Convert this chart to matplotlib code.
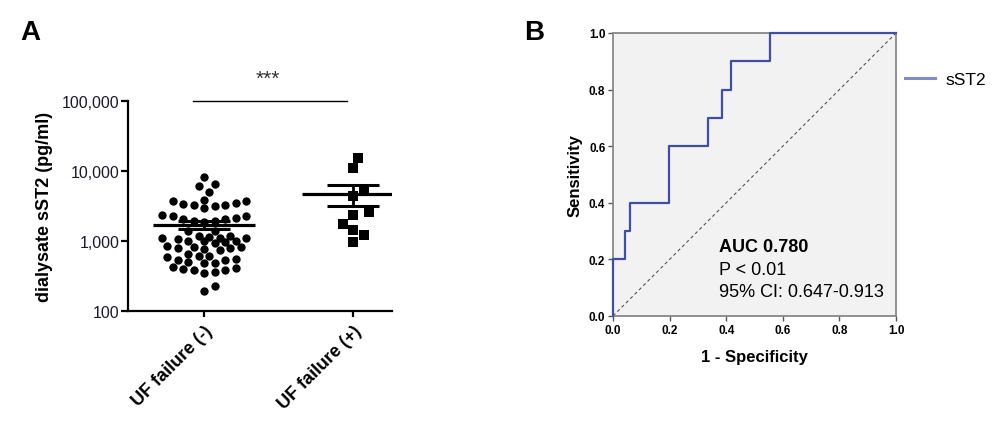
import numpy as np
import matplotlib
matplotlib.use("Agg")
import matplotlib.pyplot as plt
from matplotlib.lines import Line2D
from matplotlib.ticker import FixedLocator, FuncFormatter, NullLocator

plt.rcParams['font.family'] = ['Liberation Sans', 'DejaVu Sans']

# ---- data: panel A (dialysate sST2, pg/ml) ----
groups = ["UF failure (-)", "UF failure (+)"]
uf_neg = [8180, 6560, 6080, 5080,
          3910, 3280, 3710, 3200, 3500, 3780, 2940, 3280, 3390,
          2070, 1950, 1890, 2300, 2380, 2300, 1950, 2070, 2110,
          1405, 1167, 1104, 1010, 1104, 1010, 1068, 1010, 1104, 1130, 1167, 1377,
          927, 813, 768, 794, 743, 786, 813, 857, 958,
          615, 583, 615, 652, 535, 496, 535, 552,
          480, 410, 384, 363, 345, 384, 397, 428, 480,
          194, 229]
uf_pos = [15450, 11120, 5560, 4460, 2380, 2580, 1750, 1440, 1230, 958]
y_ticks = [100, 1000, 10000, 100000]

# ---- data: panel B (ROC) ----
fpr = [0, 0, 0.044, 0.059, 0.199, 0.337, 0.385, 0.417, 0.556, 1.0]
tpr = [0, 0.2, 0.3, 0.4, 0.6, 0.7, 0.8, 0.9, 1.0, 1.0]
auc_lines = ["AUC 0.780", "P < 0.01", "95% CI: 0.647-0.913"]

W, H = 1005, 439
fig = plt.figure(figsize=(W / 100, H / 100), dpi=100)


def box(l, t, r, b):
    return [l / W, 1 - b / H, (r - l) / W, (b - t) / H]


# ---------- panel A ----------
axA = fig.add_axes(box(128, 102, 392, 312))
px_per_x = 149.0          # pixels between the two groups
px_per_dec = 70.0         # pixels per decade
axA.set_xlim(-76 / px_per_x, 1 + 39 / px_per_x)
axA.set_yscale('log')
axA.set_ylim(100, 100000)


def swarm(vals, step=5.25, dmin=8.3, maxw=43):
    # grid beeswarm in pixel space, width capped (overlap allowed when full)
    yp = np.log10(vals) * px_per_dec
    offs = np.zeros(len(vals))
    placed = []
    cands = [0.0]
    k = 1
    while k * step <= maxw:
        cands += [k * step, -k * step]
        k += 1
    for i in np.argsort(vals):
        best, best_d = 0.0, -1
        for c in cands:
            d = min([np.hypot(c - px, yp[i] - py) for px, py in placed] + [99])
            if d >= dmin:
                best = c
                break
            if d > best_d:
                best, best_d = c, d
        offs[i] = best
        placed.append((best, yp[i]))
    return offs / px_per_x


for gx, vals, mk, ms, dmin in [(0, uf_neg, 'o', 36, 8.3), (1, uf_pos, 's', 44, 11)]:
    vals = np.array(vals, float)
    axA.scatter(gx + swarm(vals, dmin=dmin), vals, marker=mk, s=ms, color='black',
                linewidths=0, zorder=3)
    m = vals.mean()
    sem = vals.std(ddof=1) / np.sqrt(len(vals))
    axA.plot([gx - 0.342, gx + 0.342], [m, m], color='black', lw=2.3, zorder=4,
             solid_capstyle='butt')
    for v in (m - sem, m + sem):
        axA.plot([gx - 0.175, gx + 0.175], [v, v], color='black', lw=2.2, zorder=4,
                 solid_capstyle='butt')
    axA.plot([gx, gx], [m - sem, m + sem], color='black', lw=2, zorder=4)

for s in ['top', 'right']:
    axA.spines[s].set_visible(False)
for s in ['left', 'bottom']:
    axA.spines[s].set_linewidth(1.6)
axA.yaxis.set_major_locator(FixedLocator(y_ticks))
axA.yaxis.set_minor_locator(NullLocator())
axA.yaxis.set_major_formatter(FuncFormatter(lambda v, p: f"{int(v):,}"))
axA.tick_params(axis='y', length=5, width=1.6, labelsize=11.5, pad=1,
                labelcolor='#1a1a2a')
axA.set_xticks([0, 1])
axA.set_xticklabels(groups, rotation=45, ha='right', rotation_mode='anchor',
                    fontsize=13, fontweight='bold')
axA.tick_params(axis='x', length=4, width=1.6, pad=4)
axA.set_ylabel("dialysate sST2 (pg/ml)", fontsize=13, fontweight='bold')
axA.yaxis.set_label_coords(-0.285, 0.5)

# significance bar
axA.plot([-11 / px_per_x, 143 / px_per_x], [1e5, 1e5], color='black', lw=1,
         clip_on=False)
axA.text(64 / px_per_x, 10 ** (5 + 23 / px_per_dec), "***", ha='center',
         va='center', fontsize=15, color='#333333')

fig.text(20 / W, 1 - 33 / H, "A", fontsize=20, fontweight='bold', va='center')
fig.text(524 / W, 1 - 33 / H, "B", fontsize=20, fontweight='bold', va='center')

# ---------- panel B ----------
axB = fig.add_axes(box(613, 34, 896, 317))
axB.set_facecolor('#f2f2f2')
axB.set_xlim(0, 1)
axB.set_ylim(0, 1)
axB.plot([0, 1], [0, 1], ls=(0, (3, 2.5)), color='#555555', lw=0.8)
axB.plot(fpr, tpr, drawstyle='steps-post', color='#3c4ea6', lw=1.6,
         clip_on=False, zorder=3)
for s in axB.spines.values():
    s.set_color('#888888')
    s.set_linewidth(1.3)
ticks = [0, 0.2, 0.4, 0.6, 0.8, 1.0]
axB.set_xticks(ticks)
axB.set_yticks(ticks)
axB.set_xticklabels([f"{t:.1f}" for t in ticks], fontsize=8.5, fontweight='bold')
axB.set_yticklabels([f"{t:.1f}" for t in ticks], fontsize=8.5, fontweight='bold')
axB.tick_params(length=3.5, width=1, color='#555555', pad=2)
axB.set_xlabel("1 - Specificity", fontsize=12, fontweight='bold')
axB.xaxis.set_label_coords(0.5, -0.115)
axB.set_ylabel("Sensitivity", fontsize=12, fontweight='bold')
axB.yaxis.set_label_coords(-0.106, 0.5)

axB.text(0.375, 0.244, auc_lines[0], transform=axB.transAxes, fontsize=13,
         fontweight='bold', va='center')
axB.text(0.375, 0.166, auc_lines[1], transform=axB.transAxes, fontsize=13,
         va='center')
axB.text(0.375, 0.085, auc_lines[2], transform=axB.transAxes, fontsize=13,
         va='center')

handle = Line2D([], [], color='#7f8cc6', lw=2.2)
axB.legend([handle], ["sST2"], loc='center left', bbox_to_anchor=(1.032, 0.837),
           frameon=False, fontsize=12.5, handlelength=1.7, handletextpad=0.6,
           borderpad=0, borderaxespad=0)

fig.savefig("out.png", dpi=100)
